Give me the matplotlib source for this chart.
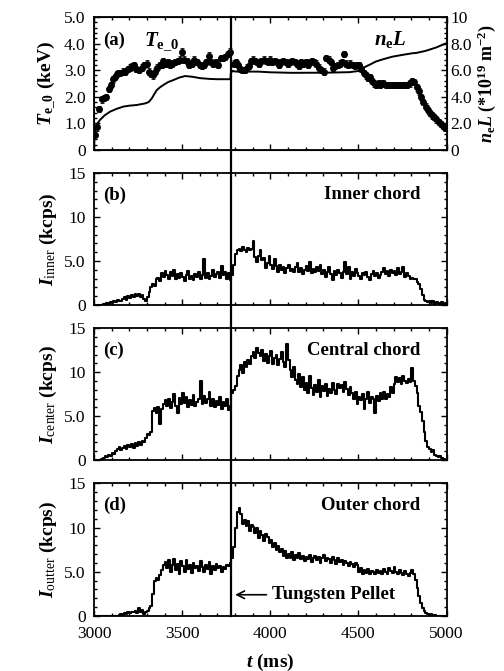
import numpy as np
import matplotlib
matplotlib.use("Agg")
import matplotlib.pyplot as plt
from matplotlib.ticker import MultipleLocator, FixedLocator
from matplotlib.transforms import blended_transform_factory

plt.rcParams['font.family'] = ['Liberation Serif', 'DejaVu Serif']
plt.rcParams['mathtext.fontset'] = 'custom'
plt.rcParams['mathtext.rm'] = 'Liberation Serif'
plt.rcParams['mathtext.it'] = 'Liberation Serif:italic'
plt.rcParams['mathtext.bf'] = 'Liberation Serif:bold'
plt.rcParams['mathtext.bfit'] = 'Liberation Serif:bold:italic'

# ---------------- data ----------------
pellet_time = 3775

# Panel (a): central electron temperature (keV)
te_time = [3005, 3015, 3028, 3044, 3056, 3068, 3085, 3097, 3110, 3119,
           3130, 3138, 3150, 3163, 3178, 3192, 3205, 3217, 3227, 3240,
           3255, 3270, 3285, 3299, 3314, 3325, 3335, 3348, 3360, 3372,
           3385, 3394, 3408, 3420, 3432, 3445, 3460, 3475, 3487, 3498,
           3512, 3525, 3540, 3555, 3570, 3585, 3600, 3612, 3625, 3638,
           3650, 3662, 3675, 3690, 3703, 3718, 3730, 3745, 3760, 3772,
           3792, 3805, 3818, 3830, 3842, 3855, 3868, 3880, 3890, 3900,
           3912, 3925, 3938, 3950, 3962, 3975, 3988, 4000, 4012, 4025,
           4038, 4050, 4062, 4075, 4088, 4100, 4112, 4125, 4138, 4150,
           4162, 4175, 4188, 4200, 4212, 4225, 4238, 4250, 4262, 4275,
           4290, 4303, 4318, 4331, 4345, 4358, 4370, 4382, 4395, 4407,
           4417, 4430, 4442, 4455, 4468, 4480, 4492, 4502, 4515, 4531,
           4543, 4555, 4567, 4578, 4590, 4602, 4614, 4625, 4640, 4655,
           4670, 4685, 4700, 4715, 4730, 4745, 4760, 4775, 4790, 4805,
           4818, 4830, 4843, 4855, 4868, 4881, 4893, 4905, 4918, 4930,
           4942, 4955, 4968, 4980, 4994]
te_value = [0.55, 0.85, 1.55, 1.90, 1.95, 2.00, 2.30, 2.45, 2.65, 2.75,
            2.85, 2.90, 2.90, 2.95, 2.95, 3.05, 3.10, 3.15, 3.20, 3.05,
            3.00, 3.10, 3.20, 3.25, 2.95, 2.85, 2.80, 2.95, 3.10, 3.20,
            3.20, 3.35, 3.25, 3.30, 3.20, 3.25, 3.30, 3.35, 3.40, 3.70,
            3.40, 3.35, 3.20, 3.25, 3.40, 3.30, 3.20, 3.15, 3.20, 3.30,
            3.55, 3.30, 3.25, 3.30, 3.20, 3.45, 3.45, 3.50, 3.60, 3.70,
            3.25, 3.30, 3.20, 3.05, 3.00, 3.00, 3.10, 3.15, 3.35, 3.40,
            3.35, 3.30, 3.25, 3.35, 3.40, 3.35, 3.30, 3.40, 3.30, 3.35,
            3.30, 3.20, 3.30, 3.35, 3.30, 3.25, 3.30, 3.35, 3.30, 3.25,
            3.15, 3.30, 3.25, 3.30, 3.20, 3.30, 3.35, 3.30, 3.25, 3.10,
            3.00, 2.95, 3.45, 3.40, 3.30, 3.10, 3.15, 3.20, 3.25, 3.30,
            3.60, 3.25, 3.20, 3.25, 3.20, 3.15, 3.20, 3.20, 3.05, 2.90,
            2.80, 2.70, 2.75, 2.60, 2.50, 2.45, 2.50, 2.45, 2.50, 2.45,
            2.45, 2.45, 2.45, 2.45, 2.45, 2.45, 2.45, 2.45, 2.50, 2.60,
            2.55, 2.35, 2.20, 2.00, 1.80, 1.63, 1.50, 1.40, 1.30, 1.25,
            1.15, 1.06, 0.97, 0.90, 0.82]
te_error = 0.12

# Panel (a): line-integrated density (1e19 m^-2)
nel_time = [3000, 3003, 3006, 3020, 3034, 3060, 3091, 3130, 3166, 3200,
            3242, 3290, 3310, 3328, 3342, 3356, 3375, 3394, 3420, 3451,
            3485, 3517, 3560, 3602, 3659, 3700, 3774, 3776, 3785, 3800,
            3934, 4000, 4123, 4313, 4450, 4502, 4520, 4540, 4570, 4597,
            4640, 4691, 4750, 4805, 4830, 4881, 4940, 4994]
nel_value = [0.0, 1.0, 1.6, 2.0, 2.26, 2.6, 2.88, 3.1, 3.26, 3.33,
             3.38, 3.5, 3.6, 3.88, 4.2, 4.5, 4.72, 4.89, 5.1, 5.26,
             5.45, 5.56, 5.5, 5.4, 5.34, 5.32, 5.32, 5.75, 5.95, 5.9,
             5.89, 5.84, 5.8, 5.81, 5.85, 5.94, 6.1, 6.26, 6.45, 6.64,
             6.82, 7.01, 7.15, 7.27, 7.3, 7.45, 7.7, 8.0]

# Panels (b)-(d): soft X-ray count rates (kcps), 10 ms bins from 3000 to 5000 ms
count_time = np.arange(3000, 5001, 10)

inner = [
    0, 0, 0, 0, 0, 0.1, 0, 0.2, 0.1, 0.3,
    0.2, 0.4, 0.3, 0.6, 0.4, 0.5, 0.7, 0.9, 0.6, 1.0,
    0.8, 1.1, 0.9, 1.3, 1.0, 1.2, 0.9, 1.1, 0.7, 0.4,
    0.9, 1.5, 2.0, 2.4, 2.2, 2.9, 3.1, 2.7, 3.6, 3.2,
    3.9, 3.4, 3.0, 3.7, 3.3, 4.0, 2.9, 3.5, 3.1, 3.6,
    3.2, 2.7, 3.4, 3.9, 3.0, 3.3, 2.8, 3.5, 3.2, 3.8,
    3.0, 3.4, 5.2, 3.1, 3.6, 2.9, 3.3, 4.0, 3.2, 3.5,
    3.7, 3.1, 4.4, 3.4, 3.8, 3.0, 3.6, 2.8, 3.4, 4.6,
    5.8, 6.2, 6.4, 6.1, 6.6, 6.3, 6.0, 6.5, 6.2, 6.4,
    7.3, 5.5, 4.9, 5.6, 6.3, 5.1, 5.4, 4.2, 4.8, 5.6,
    4.5, 4.1, 5.2, 4.4, 3.8, 4.6, 4.0, 4.3, 3.6, 4.2,
    4.5, 3.9, 4.1, 3.7, 4.3, 4.8, 3.8, 4.2, 3.5, 4.0,
    4.4, 3.9, 4.9, 3.6, 4.1, 3.7, 4.3, 3.9, 4.6, 3.5,
    4.0, 3.2, 3.7, 4.3, 3.5, 2.8, 3.9, 3.4, 4.0, 3.6,
    3.1, 3.7, 4.9, 3.5, 4.3, 2.9, 3.8, 3.3, 4.1, 3.6,
    3.3, 2.9, 3.6, 3.4, 3.8, 3.2, 2.8, 3.5, 3.9, 3.3,
    3.6, 3.1, 3.4, 3.8, 4.2, 3.5, 3.9, 3.3, 4.0, 3.6,
    3.9, 3.4, 4.2, 3.5, 3.8, 4.3, 3.2, 3.6, 3.3, 3.0,
    3.1, 2.9, 3.0, 2.6, 2.4, 1.8, 1.1, 0.6, 0.4, 0.3,
    0.5, 0.2, 0.4, 0.1, 0.3, 0.2, 0.0, 0.3, 0.1, 0.2,
    0.1]

center = [
    0, 0, 0, 0, 0.1, 0.2, 0.4, 0.3, 0.6, 0.5,
    0.8, 0.7, 1.0, 1.2, 1.5, 1.1, 1.4, 1.6, 1.3, 1.7,
    1.5, 1.8, 1.4, 1.9, 1.6, 2.0, 1.7, 2.2, 2.0, 2.5,
    3.0, 2.8, 3.2, 5.6, 5.9, 5.4, 6.0, 4.1, 5.8, 6.4,
    6.8, 6.1, 7.0, 5.9, 6.6, 7.5, 6.2, 5.3, 7.1, 6.4,
    7.6, 6.5, 7.2, 6.0, 6.8, 6.3, 7.4, 6.1, 6.6, 6.9,
    9.0, 6.4, 7.3, 6.5, 6.9, 7.8, 6.2, 7.0, 6.0, 6.7,
    6.3, 7.2, 5.8, 6.6, 6.1, 7.0, 5.7, 6.2, 7.6, 8.0,
    8.4, 9.6, 10.3, 10.8, 9.9, 11.2, 10.6, 11.4, 10.9, 11.8,
    12.3, 11.6, 12.8, 12.2, 11.9, 12.5, 11.3, 12.1, 11.0, 11.8,
    12.4, 10.9, 11.6, 12.0, 10.8, 11.5, 12.3, 11.2, 10.6, 13.2,
    11.4, 10.2, 9.4, 10.6, 9.1, 8.7, 9.8, 8.3, 9.5, 8.0,
    8.8, 7.6, 9.6, 8.2, 7.4, 8.5, 7.8, 9.1, 7.2, 8.4,
    7.9, 8.6, 7.3, 8.1, 7.6, 8.8, 8.0, 7.5, 8.7, 8.2,
    8.5, 7.8, 8.9, 8.1, 7.4, 8.3, 7.6, 6.9, 7.8, 6.4,
    7.2, 6.8, 7.5, 5.8, 7.0, 7.7, 6.5, 7.2, 6.9, 5.4,
    7.3, 6.7, 7.6, 7.0, 7.8, 6.9, 7.5, 7.2, 8.3, 7.6,
    8.6, 9.4, 8.9, 9.3, 8.7, 9.6, 9.0, 8.8, 9.2, 8.9,
    10.5, 9.0, 8.4, 7.6, 6.2, 5.5, 4.4, 3.2, 2.2, 1.5,
    1.2, 0.9, 1.1, 0.6, 0.5, 0.3, 0.4, 0.2, 0.1, 0.0,
    0.0]

outer = [
    0, 0, 0, 0, 0, 0, 0, 0, 0, 0,
    0, 0, 0, 0, 0.1, 0.2, 0.1, 0.3, 0.2, 0.4,
    0.3, 0.5, 0.4, 0.6, 0.3, 0.9, 0.5, 0.7, 0.2, 0.4,
    0.6, 0.9, 1.1, 2.5, 3.9, 4.3, 4.1, 4.6, 5.2, 5.8,
    6.1, 5.4, 6.3, 5.0, 5.8, 6.4, 5.2, 5.9, 4.8, 6.2,
    5.6, 5.0, 6.3, 5.3, 5.8, 4.9, 6.0, 5.4, 5.7, 5.1,
    6.2, 5.5, 5.0, 5.8, 5.3, 6.1, 4.8, 5.6, 5.2, 5.9,
    5.4, 5.7, 5.0, 5.5, 5.3, 5.8, 5.6, 6.0, 6.6, 7.8,
    10.0, 11.8, 12.2, 11.5, 10.4, 10.9, 10.2, 10.7, 9.6, 10.3,
    10.1, 9.4, 9.9, 8.8, 9.6, 9.1, 8.5, 9.3, 8.9, 8.2,
    8.6, 7.8, 8.3, 7.5, 7.9, 7.2, 7.6, 6.8, 7.3, 6.6,
    7.0, 6.5, 7.2, 6.3, 6.9, 6.6, 7.1, 6.4, 6.8, 6.2,
    6.7, 6.4, 6.9, 6.1, 6.6, 6.8, 6.3, 6.7, 6.0, 6.5,
    6.9, 6.2, 6.6, 6.4, 6.0, 6.7, 6.3, 5.9, 6.5, 6.1,
    6.3, 5.8, 6.2, 6.0, 5.7, 6.1, 5.9, 5.5, 6.0, 5.8,
    5.0, 5.4, 4.8, 5.2, 4.9, 5.3, 4.7, 5.1, 5.0, 4.8,
    5.2, 4.9, 5.1, 4.7, 5.3, 5.0, 4.8, 5.4, 5.1, 4.9,
    5.5, 5.0, 4.7, 5.2, 4.9, 4.6, 5.1, 4.8, 4.5, 4.9,
    5.2, 4.8, 4.1, 3.2, 2.3, 1.5, 0.9, 0.6, 0.3, 0.2,
    0.1, 0.2, 0, 0.1, 0, 0, 0, 0, 0, 0,
    0]

x_ticks = [3000, 3500, 4000, 4500, 5000]
x_ticklabels = ['3000', '3500', '4000', '4500', '5000']
te_ticks = [0, 1, 2, 3, 4, 5]
te_ticklabels = ['0', '1.0', '2.0', '3.0', '4.0', '5.0']
nel_ticks = [0, 2, 4, 6, 8, 10]
nel_ticklabels = ['0', '2.0', '4.0', '6.0', '8.0', '10']
cnt_ticks = [0, 5, 10, 15]
cnt_ticklabels = ['0', '5.0', '10', '15']

panel_labels = ['(b)', '(c)', '(d)']
chord_names = ['Inner chord', 'Central chord', 'Outer chord']
cnt_ylabels = [r'$\mathbfit{I}_{\mathrm{inner}}$ (kcps)',
               r'$\mathbfit{I}_{\mathrm{center}}$ (kcps)',
               r'$\mathbfit{I}_{\mathrm{outter}}$ (kcps)']

# ---------------- figure ----------------
fig = plt.figure(figsize=(5.04, 6.71), dpi=100)
L, R = 0.1865, 0.886
W = R - L
boxes = [(0.7765, 0.9747), (0.5455, 0.742), (0.3145, 0.5107), (0.082, 0.2797)]
axes = [fig.add_axes([L, b, W, t - b]) for b, t in boxes]

tick_fs = 12.5
lab_fs = 14
txt_fs = 13.5

def style(ax, yminor, right=True):
    ax.set_xlim(3000, 5000)
    ax.xaxis.set_major_locator(FixedLocator(x_ticks))
    ax.xaxis.set_minor_locator(MultipleLocator(100))
    ax.yaxis.set_minor_locator(MultipleLocator(yminor))
    ax.tick_params(which='both', direction='in', top=True, right=right,
                   labelsize=tick_fs, width=1.0)
    ax.tick_params(which='major', length=4)
    ax.tick_params(which='minor', length=2)
    ax.tick_params(axis='y', pad=6)
    ax.tick_params(axis='x', pad=7)
    for s in ax.spines.values():
        s.set_linewidth(1.3)

# Panel (a)
ax = axes[0]
style(ax, 0.2, right=False)
ax.set_ylim(0, 5)
ax.set_yticks(te_ticks)
ax.set_yticklabels(te_ticklabels)
ax.set_xticklabels([])
ax.errorbar(te_time, te_value, yerr=te_error, fmt='o', color='black',
            ms=4.0, elinewidth=0.6, capsize=1.2, capthick=0.6, zorder=3)
ax.set_ylabel(r'$\mathbfit{T}_{\mathbf{e\_0}}$ (keV)', fontsize=lab_fs,
              fontweight='bold', labelpad=4)
ax.text(3050, 3.95, '(a)', fontsize=txt_fs, fontweight='bold')
ax.text(3285, 3.95, r'$\mathbfit{T}_{\mathbf{e\_0}}$', fontsize=15)
ax.text(4590, 3.95, r'$\mathbfit{n}_{\mathbf{e}}\mathbfit{L}$', fontsize=15)

ax2 = ax.twinx()
ax2.set_xlim(3000, 5000)
ax2.set_ylim(0, 10)
ax2.plot(nel_time, nel_value, color='black', lw=1.4)
ax2.set_yticks(nel_ticks)
ax2.set_yticklabels(nel_ticklabels)
ax2.yaxis.set_minor_locator(MultipleLocator(0.4))
ax2.tick_params(which='both', direction='in', labelsize=tick_fs, width=1.0, pad=3)
ax2.tick_params(which='major', length=4)
ax2.tick_params(which='minor', length=2)
ax2.set_ylabel(r'$\mathbfit{n}_{\mathbf{e}}\mathbfit{L}$ (*10$^{\mathbf{19}}$ m$^{\mathbf{-2}}$)',
               fontsize=13, fontweight='bold', rotation=90, labelpad=2)

# Panels (b)-(d)
series = [inner, center, outer]
for i, (ax, vals) in enumerate(zip(axes[1:], series)):
    style(ax, 1)
    ax.set_ylim(0, 15)
    ax.set_yticks(cnt_ticks)
    ax.set_yticklabels(cnt_ticklabels)
    ax.step(count_time, vals, where='post', color='black', lw=1.5)
    ax.text(3050, 12.0, panel_labels[i], fontsize=txt_fs, fontweight='bold')
    ax.text(4850, 12.0, chord_names[i], fontsize=txt_fs, fontweight='bold', ha='right')
    ax.set_ylabel(cnt_ylabels[i], fontsize=lab_fs, fontweight='bold', labelpad=4)
    if i < 2:
        ax.set_xticklabels([])

axd = axes[3]
axd.set_xticks(x_ticks)
axd.set_xticklabels(x_ticklabels)
axd.set_xlabel(r'$\mathbfit{t}$ (ms)', fontsize=lab_fs, fontweight='bold', labelpad=7)
axd.annotate('Tungsten Pellet', xy=(pellet_time + 10, 2.4), xytext=(4010, 2.4),
             fontsize=txt_fs, fontweight='bold', va='center',
             arrowprops=dict(arrowstyle='->', color='black', lw=1.2))

# pellet line across all panels
tr = blended_transform_factory(axd.transData, fig.transFigure)
fig.add_artist(plt.Line2D([pellet_time, pellet_time], [boxes[3][0], boxes[0][1]],
                          transform=tr, color='black', lw=1.6))

fig.savefig('out.png', dpi=100)
